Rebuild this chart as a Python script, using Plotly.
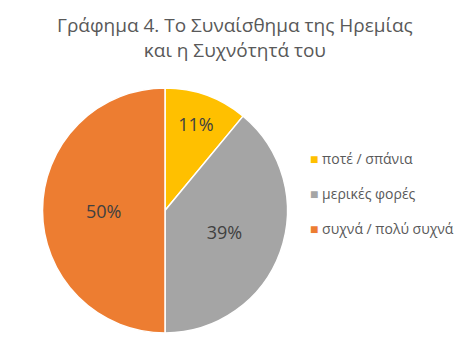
import plotly.graph_objects as go

labels = ["ποτέ / σπάνια", "μερικές φορές", "συχνά / πολύ συχνά"]
values = [11, 39, 50]
colors = ["#FFC000", "#A5A5A5", "#ED7D31"]
title_lines = ["Γράφημα 4. Το Συναίσθημα της Ηρεμίας", "και η Συχνότητά του"]

W, H = 471, 351
font_family = "Open Sans, Noto Sans, sans-serif"

fig = go.Figure()
fig.add_trace(go.Pie(
    labels=labels,
    values=values,
    marker=dict(colors=colors, line=dict(color="white", width=1.5)),
    sort=False,
    direction="clockwise",
    rotation=0,
    textinfo="percent",
    texttemplate="%{value}%",
    textposition="inside",
    insidetextorientation="horizontal",
    textfont=dict(family=font_family, size=18, color="#404040"),
    domain=dict(x=[42 / W, 288 / W], y=[1 - 333 / H, 1 - 88 / H]),
    showlegend=False,
    hoverinfo="label+percent",
))

annotations = [
    dict(text="<br>".join(title_lines), x=235 / W, y=1 - 37 / H, xref="paper", yref="paper",
         showarrow=False, xanchor="center", yanchor="middle",
         font=dict(family=font_family, size=19, color="#595959")),
]
legend_y = [158, 193, 228]
for lab, col, yy in zip(labels, colors, legend_y):
    annotations.append(dict(
        text=f"<span style='color:{col}'>■</span> {lab}",
        x=308 / W, y=1 - yy / H, xref="paper", yref="paper",
        showarrow=False, xanchor="left", yanchor="middle",
        font=dict(family=font_family, size=14, color="#595959"),
    ))

fig.update_layout(
    width=W, height=H,
    margin=dict(l=0, r=0, t=0, b=0),
    paper_bgcolor="white", plot_bgcolor="white",
    annotations=annotations,
)

fig.write_html("out.html")
